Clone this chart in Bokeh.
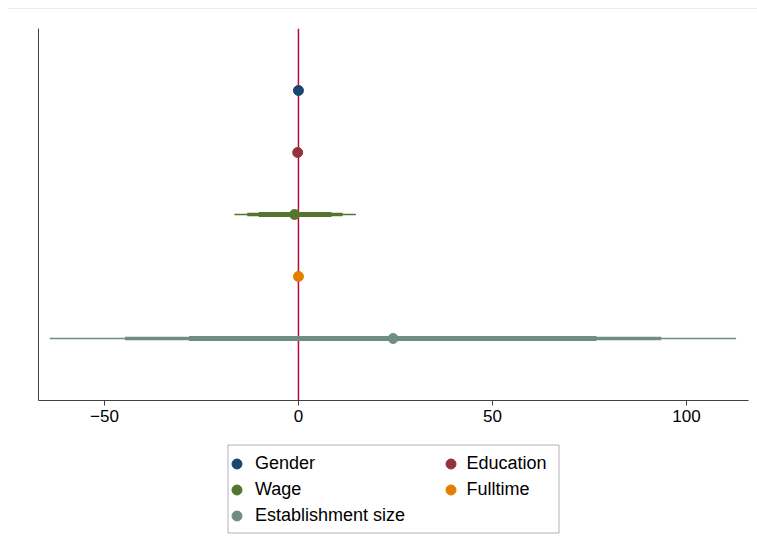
from bokeh.plotting import figure
from bokeh.layouts import column
from bokeh.models import (ColumnDataSource, Legend, LegendItem, Span, FixedTicker, Range1d,
                          BoxAnnotation)
from bokeh.embed import file_html
from bokeh.resources import INLINE

# ---- data ----
labels = ["Gender", "Education", "Wage", "Fulltime", "Establishment size"]
ypos = [5, 4, 3, 2, 1]
estimate = [0.0, -0.2, -1.0, 0.0, 24.4]
ci999_lo = [-0.3, -0.5, -16.5, -0.3, -64.1]
ci999_hi = [0.3, 0.2, 14.8, 0.3, 112.8]
ci99_lo = [-0.2, -0.4, -13.2, -0.2, -44.7]
ci99_hi = [0.2, 0.1, 11.4, 0.2, 93.5]
ci95_lo = [-0.1, -0.3, -10.2, -0.1, -28.2]
ci95_hi = [0.1, 0.0, 8.5, 0.1, 76.8]
colors = ["#1a476f", "#90353b", "#55752f", "#e37e00", "#6e8e84"]
xticks = [-50, 0, 50, 100]
legend_col1 = ["Gender", "Wage", "Establishment size"]
legend_col2 = ["Education", "Fulltime"]

FONT = "Liberation Sans"

p = figure(frame_width=710, frame_height=372, x_range=(-67, 116), y_range=(0, 6),
           output_backend="svg", toolbar_location=None,
           min_border_left=38, min_border_right=9, min_border_top=28, min_border_bottom=40,
           background_fill_color="white", border_fill_color=None)
p.styles = {"background-image": "linear-gradient(#e4ecec, #e4ecec)",
            "background-size": "calc(100% - 8px) 1px",
            "background-position": "8px 8px",
            "background-repeat": "no-repeat",
            "background-color": "white"}
p.outline_line_color = None
p.xgrid.visible = False
p.ygrid.visible = False

# axes
p.xaxis.ticker = FixedTicker(ticks=xticks)
p.xaxis.major_label_overrides = {-50: "\u221250"}
p.xaxis.major_label_text_font = FONT
p.xaxis.major_label_text_font_size = "17px"
p.xaxis.major_label_text_color = "black"
p.xaxis.axis_line_color = "#404040"
p.xaxis.major_tick_line_color = "#404040"
p.xaxis.major_tick_out = 5
p.xaxis.major_tick_in = 0
p.xaxis.minor_tick_line_color = None
p.xaxis.major_label_standoff = 4

p.yaxis.major_tick_line_color = None
p.yaxis.minor_tick_line_color = None
p.yaxis.major_label_text_font_size = "0px"
p.yaxis.axis_line_color = "#404040"
p.yaxis.major_label_text_color = None

# reference line at 0 (beneath the markers)
p.add_layout(Span(location=0, dimension="height", line_color="#c10534",
                  line_width=1.5, level="underlay"))

for i in range(len(labels)):
    src = ColumnDataSource(dict(
        y=[ypos[i]], est=[estimate[i]],
        l1=[ci999_lo[i]], h1=[ci999_hi[i]],
        l2=[ci99_lo[i]], h2=[ci99_hi[i]],
        l3=[ci95_lo[i]], h3=[ci95_hi[i]]))
    c = colors[i]
    p.segment(x0="l1", x1="h1", y0="y", y1="y", source=src, line_color=c, line_width=1.5)
    p.segment(x0="l2", x1="h2", y0="y", y1="y", source=src, line_color=c, line_width=3.5)
    p.segment(x0="l3", x1="h3", y0="y", y1="y", source=src, line_color=c, line_width=5)
    p.scatter(x="est", y="y", source=src, size=10, fill_color=c, line_color=c, marker="circle")

# ---- legend, drawn in its own strip below the plot ----
lf = figure(width=757, height=100, x_range=Range1d(0, 1), y_range=Range1d(0, 1),
            x_axis_type=None, y_axis_type=None, output_backend="svg", toolbar_location=None,
            min_border=0, border_fill_color=None, background_fill_color=None)
lf.outline_line_color = None
lf.xgrid.visible = False
lf.ygrid.visible = False

swatches = {}
for i in range(len(labels)):
    # swatch renderers: their single point lies outside the strip's range
    swatches[labels[i]] = lf.scatter(x=[5], y=[5], size=10, fill_color=colors[i],
                                     line_color=colors[i], marker="circle")

# legend frame
lf.add_layout(BoxAnnotation(left=227.5, right=558.5, top=4.5, bottom=92.5,
                            left_units="canvas", right_units="canvas",
                            top_units="canvas", bottom_units="canvas",
                            fill_alpha=0, line_color="black", line_width=1))

common = dict(orientation="vertical",
              label_text_font=FONT, label_text_font_size="18px", label_text_color="black",
              padding=0, spacing=1, margin=0, border_line_color=None,
              background_fill_alpha=0,
              glyph_width=25, glyph_height=25, label_height=25)

legend_a = Legend(items=[LegendItem(label=l, renderers=[swatches[l]]) for l in legend_col1],
                  label_standoff=6, location=(186, 12.5), **common)
legend_b = Legend(items=[LegendItem(label=l, renderers=[swatches[l]]) for l in legend_col2],
                  label_standoff=4, location=(399.5, 38.5), **common)
lf.add_layout(legend_a, "center")
lf.add_layout(legend_b, "center")

layout = column(p, lf, spacing=0)
open("out.html", "w").write(file_html(layout, INLINE))
